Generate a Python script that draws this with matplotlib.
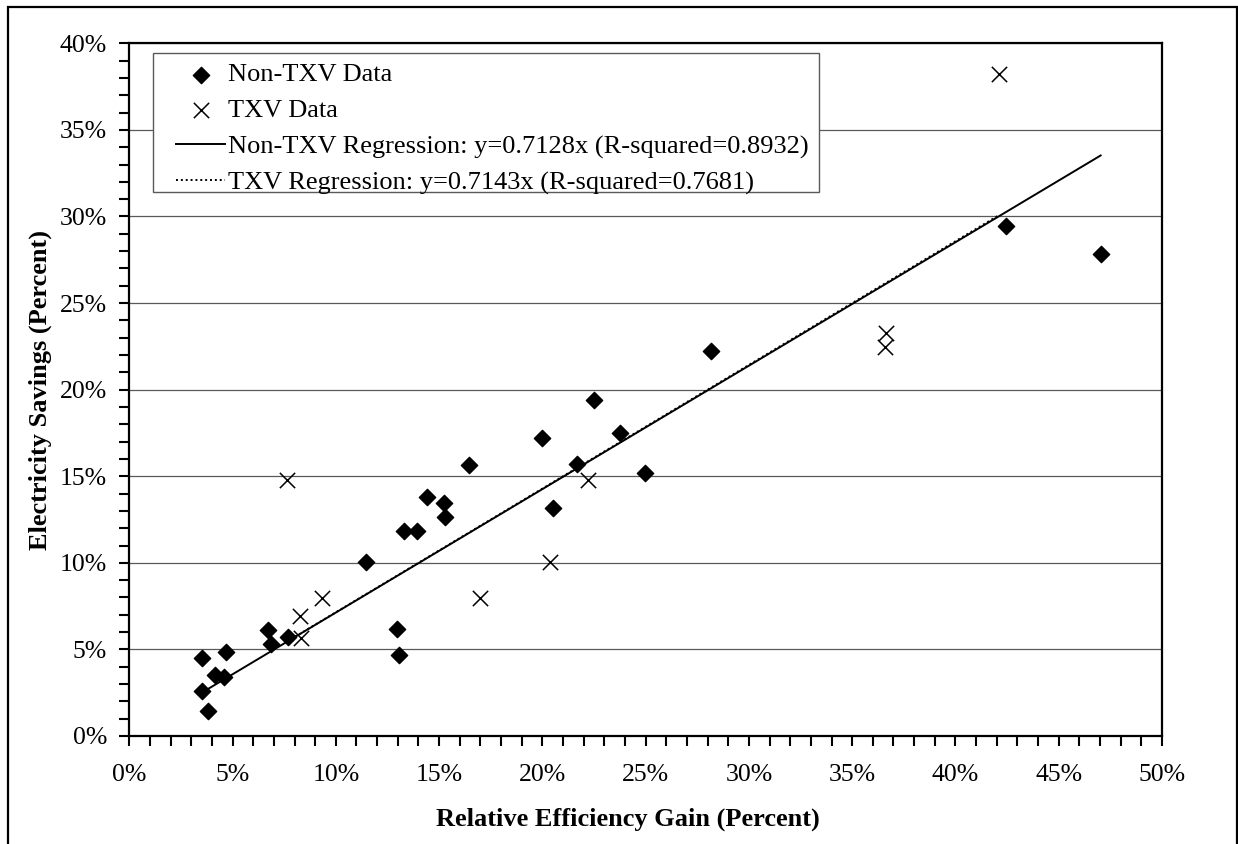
import matplotlib
matplotlib.use("Agg")
import matplotlib.pyplot as plt
import numpy as np
from matplotlib.ticker import MultipleLocator, PercentFormatter
from matplotlib.patches import Rectangle

plt.rcParams["font.family"] = ["Liberation Serif", "DejaVu Serif"]

# Dane (procenty)
non_txv_x = [3.53, 4.70, 4.15, 4.58, 3.50, 3.80, 6.71, 6.88, 7.67, 11.46, 12.94, 13.04, 13.30, 13.93,
             14.43, 15.23, 15.30, 16.43, 19.98, 20.52, 21.70, 22.51, 23.78, 24.98, 28.18, 42.43, 47.03]
non_txv_y = [4.48, 4.86, 3.52, 3.38, 2.60, 1.45, 6.11, 5.30, 5.69, 10.02, 6.19, 4.69, 11.84, 11.84,
             13.80, 13.46, 12.65, 15.67, 17.19, 13.18, 15.69, 19.40, 17.51, 15.17, 22.22, 29.46, 27.83]

txv_x = [7.62, 8.25, 9.34, 8.31, 17.00, 20.36, 22.19, 36.63, 36.58, 42.11]
txv_y = [14.76, 6.94, 7.96, 5.67, 7.97, 10.03, 14.78, 23.25, 22.48, 38.20]

slope_non_txv = 0.7128
slope_txv = 0.7143

labels = ["Non-TXV Data", "TXV Data",
          "Non-TXV Regression: y=0.7128x (R-squared=0.8932)",
          "TXV Regression: y=0.7143x (R-squared=0.7681)"]

W, H = 1238, 844
fig = plt.figure(figsize=(W / 100, H / 100), dpi=100)
ax = fig.add_axes([129.3 / W, 1 - 736 / H, (1162 - 129.3) / W, (736 - 43.3) / H])

ax.scatter(non_txv_x, non_txv_y, marker="D", s=8.3 ** 2, color="black", zorder=4, label=labels[0])
ax.scatter(txv_x, txv_y, marker="x", s=11 ** 2, color="black", linewidths=1.1, zorder=4, label=labels[1])

xr = np.array([min(non_txv_x), max(non_txv_x)])
ax.plot(xr, slope_non_txv * xr, color="black", lw=1.4, zorder=3, label=labels[2])
xt = np.array([min(txv_x), max(txv_x)])
ax.plot(xt, slope_txv * xt, color="black", lw=1.4, ls=(0, (1, 1.5)), zorder=3, label=labels[3])

ax.set_xlim(0, 50)
ax.set_ylim(0, 40)
ax.xaxis.set_major_locator(MultipleLocator(5))
ax.xaxis.set_minor_locator(MultipleLocator(1))
ax.yaxis.set_major_locator(MultipleLocator(5))
ax.yaxis.set_minor_locator(MultipleLocator(1))
ax.xaxis.set_major_formatter(PercentFormatter(decimals=0))
ax.yaxis.set_major_formatter(PercentFormatter(decimals=0))

ax.grid(axis="y", which="major", color="0.35", lw=0.9)
ax.set_axisbelow(True)
for sp in ax.spines.values():
    sp.set_linewidth(1.6)
    sp.set_color("black")

ax.tick_params(axis="both", which="both", direction="out", width=1.5, length=7, labelsize=18.5, color="black")
ax.tick_params(axis="x", which="major", pad=13)
ax.tick_params(axis="y", which="major", pad=9)

ax.set_xlabel("Relative Efficiency Gain (Percent)", fontsize=19, fontweight="bold")
ax.set_ylabel("Electricity Savings (Percent)", fontsize=19, fontweight="bold")
ax.xaxis.set_label_coords((628 - 129.3) / 1032.7, (736 - 819) / 692.7)
ax.xaxis.label.set_va("center")
ax.yaxis.set_label_coords((40 - 129.3) / 1032.7, 0.5)
ax.yaxis.label.set_va("center")

# legenda bez ramki, ramka rysowana osobno
leg = ax.legend(loc="upper left", bbox_to_anchor=(176 / W, 1 - 63 / H),
                bbox_transform=fig.transFigure, fontsize=19, frameon=False,
                handlelength=1.86, handletextpad=0.12, borderpad=0, borderaxespad=0,
                labelspacing=0.47, scatterpoints=1)
leg.set_zorder(6)
ax.add_patch(Rectangle((152.7 / W, 1 - 192.3 / H), (819 - 152.7) / W, (192.3 - 53.3) / H,
                       transform=fig.transFigure, facecolor="white", edgecolor="0.35",
                       lw=1.0, zorder=5, clip_on=False))

# ramka wokol wykresu
fig.add_artist(Rectangle((8.3 / W, -0.02), (1236.5 - 8.3) / W, 1 - 6.7 / H + 0.02,
                         transform=fig.transFigure, fill=False, lw=1.6, ec="black", clip_on=False))

plt.savefig("out.png", dpi=100)
